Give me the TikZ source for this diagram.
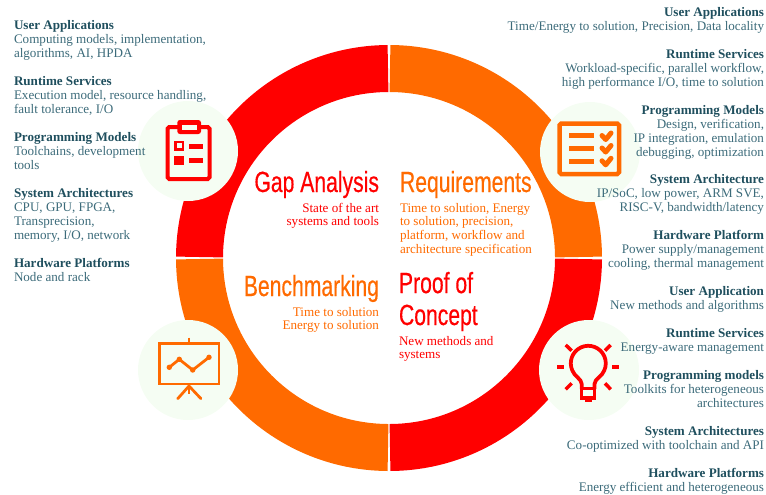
\documentclass[tikz,border=0pt]{standalone}
\usepackage{fontspec}
\setmainfont{Liberation Serif}
\newfontfamily\titlefont[FakeStretch=0.725,FakeBold=0.4]{Liberation Sans}
\usetikzlibrary{positioning}
\definecolor{hpcred}{HTML}{FF0000}
\definecolor{hpcorange}{HTML}{FF6A00}
\definecolor{tealhead}{HTML}{1F4F5E}
\definecolor{tealbody}{HTML}{3C6B7A}
\definecolor{mintbg}{HTML}{F5FDF3}
\newcommand{\hd}[1]{\strut\textbf{\textcolor{tealhead}{#1}}}
\tikzset{
  leftitem/.style={inner sep=0pt, outer sep=0pt, align=left, text=tealbody, font=\fontsize{7.45}{7.95}\selectfont},
  rightitem/.style={inner sep=0pt, outer sep=0pt, align=right, text=tealbody, font=\fontsize{7.45}{7.95}\selectfont},
  bigtitle/.style={inner sep=0pt, outer sep=0pt, font=\titlefont\fontsize{16.6}{18.2}\selectfont},
  subtext/.style={inner sep=0pt, outer sep=0pt, font=\fontsize{7.45}{7.91}\selectfont},
  ringseg/.style={line width=0.94cm},
  iconbg/.style={fill=mintbg},
  redline/.style={draw=hpcred, line width=0.08cm},
  orangeline/.style={draw=hpcorange, line width=0.09cm},
  thinline/.style={draw=hpcorange, line width=0.055cm}
}
\begin{document}
\begin{tikzpicture}[x=0.02cm, y=-0.02cm, node distance=0.28cm and 0cm]
    \useasboundingbox (0,0) rectangle (766,494);

    % ring
    \draw[ringseg, draw=hpcred] (199.5,257) arc[start angle=180.3, end angle=269.7, radius=189.5];
    \draw[ringseg, draw=hpcorange] (390,68.5) arc[start angle=270.3, end angle=359.7, radius=189.5];
    \draw[ringseg, draw=hpcred] (578.5,259) arc[start angle=0.3, end angle=89.7, radius=189.5];
    \draw[ringseg, draw=hpcorange] (388,447.5) arc[start angle=90.3, end angle=179.7, radius=189.5];

    % icon discs
    \fill[iconbg] (188,151) circle[radius=50];
    \fill[iconbg] (590,152) circle[radius=50];
    \fill[iconbg] (188,370) circle[radius=50];
    \fill[iconbg] (589,370) circle[radius=50];

    % clipboard
    \draw[redline, rounded corners=1pt] (167.5,127) rectangle (209.5,179);
    \fill[hpcred, rounded corners=1.5pt] (177.3,120) rectangle (201,134);
    \fill[mintbg] (182,124.7) rectangle (197,130);
    \draw[draw=hpcred, line width=0.05cm] (175.5,142.2) rectangle (182.8,149.5);
    \fill[hpcred] (174.3,156) rectangle (184,165.3);
    \fill[hpcred] (189,144) rectangle (203,148.6);
    \fill[hpcred] (189,158) rectangle (203,162.6);

    % checklist
    \draw[orangeline, rounded corners=1pt] (559.5,123.5) rectangle (619,174);
    \draw[orangeline, line width=0.1cm] (569.3,135.7) -- (594.3,135.7);
    \draw[orangeline, line width=0.1cm] (569.3,148.3) -- (594.3,148.3);
    \draw[orangeline, line width=0.1cm] (569.3,161) -- (594.3,161);
    \draw[orangeline, line width=0.1cm, line cap=round, line join=round] (602,135.5) -- (605.7,139.5) -- (611,133);
    \draw[orangeline, line width=0.1cm, line cap=round, line join=round] (602,148) -- (605.7,152) -- (611,145.5);
    \draw[orangeline, line width=0.1cm, line cap=round, line join=round] (602,160.8) -- (605.7,164.8) -- (611,158.3);

    % chart on a stand
    \draw[thinline] (159.8,343.8) rectangle (219,384);
    \draw[thinline] (189,337.7) -- (189,343.8);
    \draw[thinline] (189,384) -- (189,394.3);
    \draw[thinline, line cap=round] (177.7,398.7) -- (189,386) -- (201,398.7);
    \draw[thinline, line join=round] (169.3,367.3) -- (179.3,359.3) -- (192.7,370) -- (209,357.3);
    \fill[hpcorange] (169.3,367.3) circle[radius=2.7];
    \fill[hpcorange] (179.3,359.3) circle[radius=2.7];
    \fill[hpcorange] (192.7,370) circle[radius=2.7];
    \fill[hpcorange] (209,357.3) circle[radius=2.7];

    % light bulb
    \draw[draw=hpcred, line width=0.075cm, line join=round]
      (581.7,389) -- (581.7,384) .. controls (581.7,379) and (574,376) .. (572.3,370.4)
      arc[start angle=156, end angle=384, radius=17.5]
      .. controls (602.6,376) and (594.5,379) .. (594.5,384) -- (594.5,389);
    \fill[hpcred] (580,387.3) rectangle (596,390);
    \fill[hpcred] (580,396) rectangle (596,399.5);
    \fill[hpcred] (580,387.3) rectangle (583,399.5);
    \fill[hpcred] (593,387.3) rectangle (596,399.5);
    \fill[hpcred] (585,399) rectangle (591.7,401.7);
    \draw[draw=hpcred, line width=0.07cm] (557.3,367) -- (564,367);
    \draw[draw=hpcred, line width=0.07cm] (612,367) -- (618.7,367);
    \draw[draw=hpcred, line width=0.07cm] (565.7,345) -- (571.7,350.7);
    \draw[draw=hpcred, line width=0.07cm] (605,350.7) -- (610.7,345);
    \draw[draw=hpcred, line width=0.07cm] (565.7,389.3) -- (571.7,383.3);
    \draw[draw=hpcred, line width=0.07cm] (605,383.3) -- (610.7,389.3);

    % left column
    \node (appL) [leftitem, anchor=north west] at (14,20) {\hd{User Applications}\\Computing models, implementation,\\algorithms, AI, HPDA\strut};
    \node (runL) [leftitem, below right=of appL.south west] {\hd{Runtime Services}\\Execution model, resource handling,\\fault tolerance, I/O\strut};
    \node (progL) [leftitem, below right=of runL.south west] {\hd{Programming Models}\\Toolchains, development\\tools\strut};
    \node (sysL) [leftitem, below right=of progL.south west] {\hd{System Architectures}\\CPU, GPU, FPGA,\\Transprecision,\\memory, I/O, network\strut};
    \node (hwL) [leftitem, below right=of sysL.south west] {\hd{Hardware Platforms}\\Node and rack\strut};

    % right column
    \node (appR) [rightitem, anchor=north east] at (764,6.5) {\hd{User Applications}\\Time/Energy to solution, Precision, Data locality\strut};
    \node (runR) [rightitem, below left=of appR.south east] {\hd{Runtime Services}\\Workload-specific, parallel workflow,\\high performance I/O, time to solution\strut};
    \node (progR) [rightitem, below left=of runR.south east] {\hd{Programming Models}\\Design, verification,\\IP integration, emulation\\debugging, optimization\strut};
    \node (sysR) [rightitem, below left=of progR.south east] {\hd{System Architecture}\\IP/SoC, low power, ARM SVE,\\RISC-V, bandwidth/latency\strut};
    \node (hwR) [rightitem, below left=of sysR.south east] {\hd{Hardware Platform}\\Power supply/management\\cooling, thermal management\strut};
    \node (appB) [rightitem, below left=of hwR.south east] {\hd{User Application}\\New methods and algorithms\strut};
    \node (runB) [rightitem, below left=of appB.south east] {\hd{Runtime Services}\\Energy-aware management\strut};
    \node (progB) [rightitem, below left=of runB.south east] {\hd{Programming models}\\Toolkits for heterogeneous\\architectures\strut};
    \node (sysB) [rightitem, below left=of progB.south east] {\hd{System Architectures}\\Co-optimized with toolchain and API\strut};
    \node (hwB) [rightitem, below left=of sysB.south east] {\hd{Hardware Platforms}\\Energy efficient and heterogeneous\strut};

    % centre titles
    \node (gap) [bigtitle, text=hpcred, anchor=base east] at (379,192) {Gap Analysis};
    \node (gapsub) [subtext, text=hpcred, align=right, below left=0.085cm and 0cm of gap.south east] {\strut State of the art\\systems and tools\strut};
    \node (req) [bigtitle, text=hpcorange, anchor=base west] at (400,192) {Requirements};
    \node (reqsub) [subtext, text=hpcorange, align=left, below right=0.085cm and 0cm of req.south west] {\strut Time to solution, Energy\\to solution, precision,\\platform, workflow and\\architecture specification\strut};
    \node (bench) [bigtitle, text=hpcorange, anchor=base east] at (379,296) {Benchmarking};
    \node (benchsub) [subtext, text=hpcorange, align=right, below left=0.085cm and 0cm of bench.south east] {\strut Time to solution\\Energy to solution\strut};
    \node (poc) [bigtitle, text=hpcred, align=left, anchor=base west] at (399,325) {Proof of\\Concept};
    \node (pocsub) [subtext, text=hpcred, align=left, below right=0.085cm and 0cm of poc.south west] {\strut New methods and\\systems\strut};
  \end{tikzpicture}
\end{document}
